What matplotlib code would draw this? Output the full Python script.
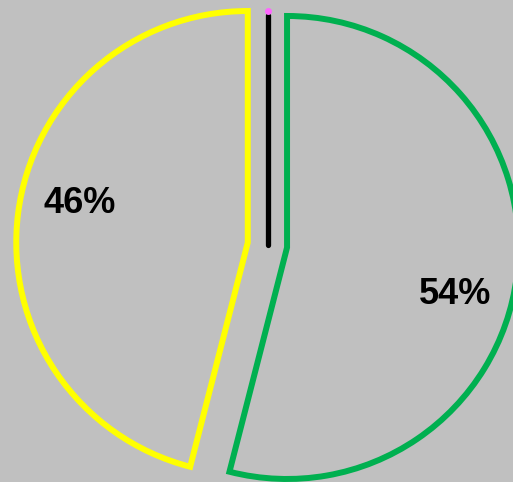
import numpy as np
import matplotlib
matplotlib.use('Agg')
from matplotlib import pyplot as plt

shares = [46, 54]
colors = ['#FFFF00', '#00B050']
labels = ['46%', '54%']

bg = '#C0C0C0'
cx, cy = 267.4, 237.0   # pie centre in pixel space (y up)
r = 231.5
expl = 19.8             # pie() uses explode in data units
lw = 4.3

fig = plt.figure(figsize=(5.13, 4.82), dpi=100, facecolor=bg)
ax = fig.add_axes([0, 0, 1, 1])
ax.set_facecolor(bg)

wedges, _ = ax.pie(shares, colors=colors, startangle=90, counterclock=True,
                   radius=r, center=(cx, cy), explode=[expl, expl],
                   wedgeprops=dict(fill=False, linewidth=lw, joinstyle='miter'),
                   frame=True)
for w, c in zip(wedges, colors):
  w.set_edgecolor(c)

# percentage labels, a bit clockwise from the mid angle
for w, lab in zip(wedges, labels):
  mid = np.deg2rad((w.theta1 + w.theta2) / 2 - 7)
  x0, y0 = w.center
  ax.text(x0 + 0.75 * r * np.cos(mid), y0 + 0.75 * r * np.sin(mid), lab,
          ha='center', va='center_baseline', fontsize=26, fontweight='bold',
          family='Liberation Sans', color='black')

# black marker line from centre to top
ax.plot([cx + 1, cx + 1], [cy, cy + r - 1], color='black', linewidth=3.8, solid_capstyle='round', zorder=3)
ax.plot([cx + 1], [cy + r + 3], 'o', color='#FF66FF', markersize=5, markeredgewidth=0, zorder=4)

ax.set_xlim(0, 513)
ax.set_ylim(0, 482)
ax.set_aspect('auto')
ax.axis('off')

plt.savefig('out.png', dpi=100, facecolor=bg)
